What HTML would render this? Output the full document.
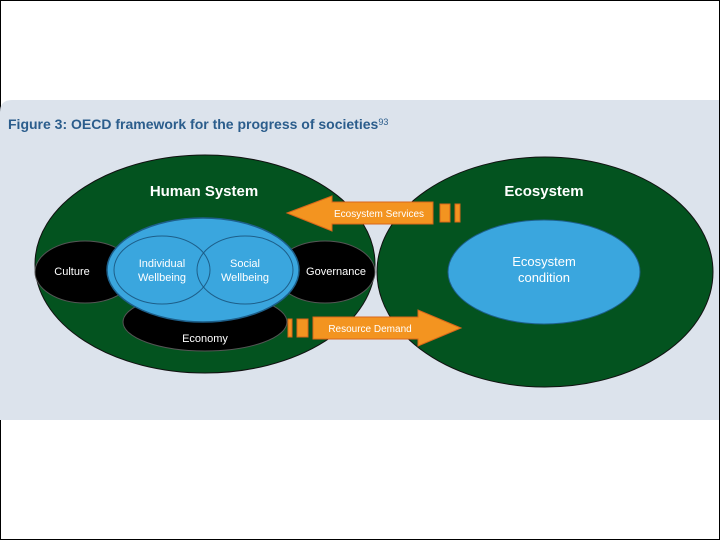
<!DOCTYPE html>
<html><head><meta charset="utf-8"><style>
html,body{margin:0;padding:0;background:#fff;}
body{width:720px;height:540px;overflow:hidden;}
</style></head><body>
<svg width="720" height="540" viewBox="0 0 720 540" xmlns="http://www.w3.org/2000/svg" font-family="Liberation Sans, Arial, sans-serif">
<rect x="0.5" y="0.5" width="719" height="539" fill="#fff" stroke="#000" stroke-width="1"/>
<path d="M12 100 H719 V420 H0 V112 Q0 100 12 100 Z" fill="#dce3ec"/>
<text x="8" y="129" font-size="14" font-weight="bold" fill="#2b5d8c">Figure 3: OECD framework for the progress of societies<tspan font-size="9" dy="-4" font-weight="normal">93</tspan></text>
<!-- left ellipse -->
<ellipse cx="205" cy="264" rx="170" ry="109" fill="#03531f" stroke="#111" stroke-width="1"/>
<ellipse cx="545" cy="272" rx="168" ry="115" fill="#03531f" stroke="#111" stroke-width="1"/>
<text x="204" y="196" font-size="15" font-weight="bold" fill="#fff" text-anchor="middle">Human System</text>
<text x="544" y="196" font-size="15" font-weight="bold" fill="#fff" text-anchor="middle">Ecosystem</text>
<!-- black ellipses -->
<ellipse cx="205" cy="322" rx="82" ry="29" fill="#000" stroke="#555"/>
<ellipse cx="85" cy="272" rx="50" ry="31" fill="#000" stroke="#555"/>
<ellipse cx="325" cy="272" rx="50" ry="31" fill="#000" stroke="#555"/>
<text x="72" y="275" font-size="11" fill="#fff" text-anchor="middle">Culture</text>
<text x="336" y="275" font-size="11" fill="#fff" text-anchor="middle">Governance</text>
<text x="205" y="342" font-size="11" fill="#fff" text-anchor="middle">Economy</text>
<!-- blue -->
<ellipse cx="203" cy="270" rx="96" ry="52" fill="#3aa6de" stroke="#1d5f8a" stroke-width="1.5"/>
<ellipse cx="162" cy="270" rx="48" ry="34" fill="none" stroke="#1d5f8a" stroke-width="1"/>
<ellipse cx="245" cy="270" rx="48" ry="34" fill="none" stroke="#1d5f8a" stroke-width="1"/>
<text x="162" y="267" font-size="11" fill="#fff" text-anchor="middle">Individual</text>
<text x="162" y="281" font-size="11" fill="#fff" text-anchor="middle">Wellbeing</text>
<text x="245" y="267" font-size="11" fill="#fff" text-anchor="middle">Social</text>
<text x="245" y="281" font-size="11" fill="#fff" text-anchor="middle">Wellbeing</text>
<ellipse cx="544" cy="272" rx="96" ry="52" fill="#3aa6de" stroke="#1d5f8a" stroke-width="1"/>
<text x="544" y="266" font-size="13" fill="#fff" text-anchor="middle">Ecosystem</text>
<text x="544" y="282" font-size="13" fill="#fff" text-anchor="middle">condition</text>
<!-- arrows -->
<g fill="#f39420" stroke="#d8661a" stroke-width="1">
<path d="M287 213 L332 196 L332 202 L433 202 L433 224 L332 224 L332 231 Z"/>
<rect x="440" y="204" width="10" height="18"/>
<rect x="455" y="204" width="5" height="18"/>
<path d="M461 328 L418 310 L418 317 L313 317 L313 339 L418 339 L418 346 Z"/>
<rect x="288" y="319" width="4" height="18"/>
<rect x="297" y="319" width="11" height="18"/>
</g>
<text x="379" y="217" font-size="10" fill="#fff" text-anchor="middle">Ecosystem Services</text>
<text x="370" y="332" font-size="10" fill="#fff" text-anchor="middle">Resource Demand</text>
</svg>
</body></html>
